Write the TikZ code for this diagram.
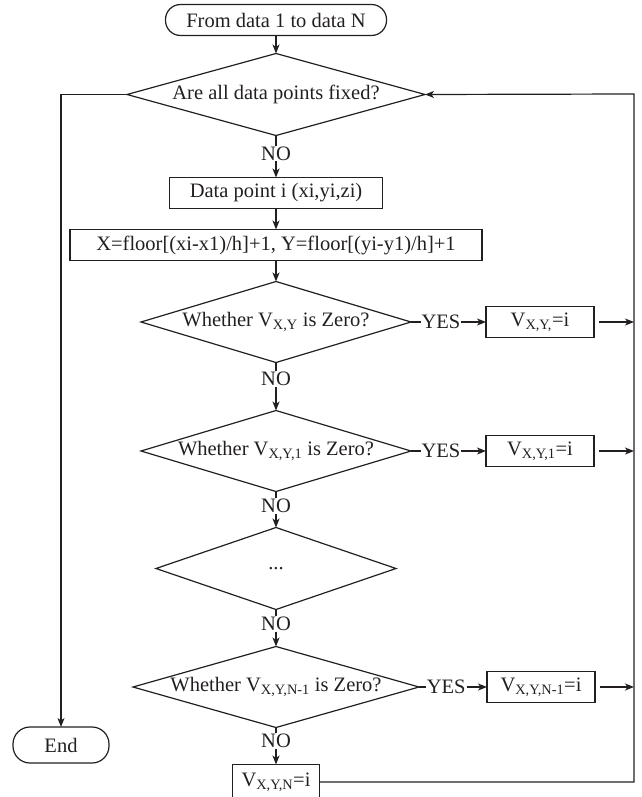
\documentclass[tikz,border=0pt]{standalone}
\usepackage{fontspec}
\setmainfont{Liberation Serif}
\usepackage{tikz}
\usetikzlibrary{shapes.geometric,arrows.meta}
\usetikzlibrary{positioning}
\definecolor{ink}{RGB}{35,31,32}

\begin{document}
\begin{tikzpicture}[x=1pt,y=-1pt,>={Stealth[length=9pt,width=7pt,inset=2.5pt]},
        every node/.style={font=\fontsize{20.5}{24}\selectfont,text=ink,outer sep=0pt},
        block/.style={draw=ink,line width=1.2pt,rectangle,minimum height=31pt,inner sep=0pt},
        term/.style={block,rounded corners=15pt},
        decision/.style={draw=ink,line width=1.2pt,diamond,inner sep=0pt},
        line/.style={draw=ink,line width=1.2pt},
        tag/.style={fill=white,inner sep=1pt}]
   \useasboundingbox (0,0) rectangle (641,797);

   \node[term,minimum width=221pt] (A) at (276,20) {From data 1 to data N};
   \node[decision,minimum width=298pt,minimum height=82pt,
         label=center:{Are all data points fixed?}] (B) [below=18pt of A] {};
   \node[block,minimum width=213pt] (C) [below=42pt of B] {Data point i (xi,yi,zi)};
   \node[block,minimum width=412pt] (D) [below=21pt of C] {X=floor[(xi-x1)/h]+1, Y=floor[(yi-y1)/h]+1};
   \node[decision,minimum width=270pt,minimum height=81pt,
         label=center:{Whether V\textsubscript{X,Y} is Zero?}] (E) [below=21pt of D] {};
   \node[block,minimum width=108pt] (F) [right=75pt of E] {V\textsubscript{X,Y,}=i};

   \node[decision,minimum width=270pt,minimum height=81pt,
         label=center:{Whether V\textsubscript{X,Y,1} is Zero?}] (G) [below=48pt of E] {};
   \node[block,minimum width=108pt] (H) [right=75pt of G] {V\textsubscript{X,Y,1}=i};
   \node[decision,minimum width=240pt,minimum height=82pt,label=center:{...}] (I) [below=36pt of G] {};
   \node[decision,minimum width=286pt,minimum height=81pt,
         label=center:{Whether V\textsubscript{X,Y,N-1} is Zero?}] (J) [below=37pt of I] {};
   \node[block,minimum width=108pt] (K) [right=68pt of J] {V\textsubscript{X,Y,N-1}=i};
   \node[block,minimum width=87pt,minimum height=35pt] (L) [below=37pt of J] {V\textsubscript{X,Y,N}=i};

   \node[term,minimum width=96pt,minimum height=36pt,rounded corners=17pt] (M) at (61,745) {End};
   \coordinate (R) at (634,94);

   % main column
   \draw[line,->] (A) -- (B);
   \draw[line,->] (B) -- node[tag,pos=0.43]{NO} (C);
   \draw[line,->] (C) -- (D);
   \draw[line,->] (D) -- (E);
   \draw[line,->] (E) -- node[tag,pos=0.35]{NO} (G);
   \draw[line,->] (G) -- node[tag,pos=0.4]{NO} (I);
   \draw[line,->] (I) -- node[tag,pos=0.4]{NO} (J);
   \draw[line,->] (J) -- node[tag,pos=0.37]{NO} (L);

   % yes branches
   \draw[line,->] (E) -- node[tag,pos=0.4]{YES} (F);
   \draw[line,->] (G) -- node[tag,pos=0.4]{YES} (H);
   \draw[line,->] (J) -- node[tag,pos=0.4]{YES} (K);
   \draw[line,->,shorten <=5pt] (F.east) -- (F.east -| R);
   \draw[line,->,shorten <=5pt] (H.east) -- (H.east -| R);
   \draw[line,->,shorten <=5pt] (K.east) -- (K.east -| R);

   % loops
   \draw[line,->] (L.east) -| (R) -- (B.east);
   \draw[line,->] (B.west) -| (M.north);
\end{tikzpicture}
\end{document}
